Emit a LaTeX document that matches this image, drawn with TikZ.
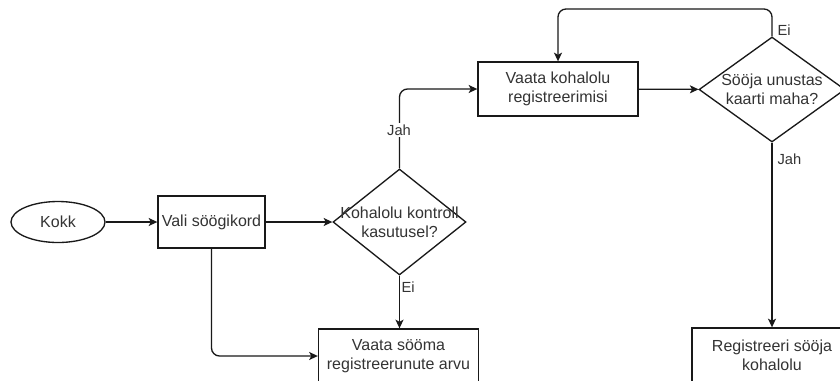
\documentclass[tikz,border=0pt]{standalone}
\usepackage{fontspec}
\setmainfont{Liberation Sans}
\usetikzlibrary{shapes.geometric,arrows.meta}
\begin{document}
\begin{tikzpicture}[x=0.75pt,y=-0.75pt,
  txt/.style={font=\fontsize{12}{14}\selectfont, text=black!80, align=center},
  lbl/.style={font=\fontsize{11}{13}\selectfont, text=black!80, inner sep=1pt},
  shp/.style={draw=black!90, line width=1pt, inner sep=0pt},
  box/.style={shp, txt, rectangle, minimum width=120pt, minimum height=40.5pt},
  oval/.style={shp, txt, ellipse},
  decision/.style={shp, diamond},
  arr/.style={draw=black!90, line width=1pt, rounded corners=6pt,
    -{Stealth[length=6.5pt,width=6pt,inset=1.6pt]}}
]
\path[use as bounding box, clip] (0,0) rectangle (840,380);

% shapes
\node[oval, minimum width=70.5pt, minimum height=30.75pt] (kokk) at (58,222) {Kokk};
\node[box, minimum width=80.25pt, minimum height=39pt] (vali) at (211.5,222) {Vali söögikord};
\node[decision, minimum width=99.75pt, minimum height=79.5pt] (d1) at (399.5,222) {};
\node[txt] (d1txt) at (399.5,222) {Kohalolu kontroll\\kasutusel?};
\node[box] (reg1) at (398.5,356) {Vaata sööma\\registreerunute arvu};
\node[box] (kon) at (558,89) {Vaata kohalolu\\registreerimisi};
\node[decision, minimum width=109.5pt, minimum height=78.75pt] (d2) at (772,89.5) {};
\node[txt] (d2txt) at (772,89.5) {Sööja unustas\\kaarti maha?};
\node[box] (reg2) at (772,355) {Registreeri sööja\\kohalolu};

\coordinate (looptop) at (0,9);

% connectors
\draw[arr] (kokk) -- (vali);
\draw[arr] (vali) -- (d1);
\draw[arr] (vali.south) |- (reg1.west);
\draw[arr] (d1.south) -- (d1.south |- reg1.north);
\draw[arr] (d1.north) |- (kon.west);
\draw[arr] (kon) -- (d2);
\draw[arr] (d2.north) -- (d2.north |- looptop) -| (kon.north);
\draw[arr] (d2.south) -- (reg2.north);

% connector labels
\node[lbl, fill=white] (jah1) at (399,130) {Jah};
\node[lbl, anchor=west] (ei1) at (400,287) {Ei};
\node[lbl, anchor=west] (ei2) at (776,30) {Ei};
\node[lbl, anchor=west] (jah2) at (776,159) {Jah};
\end{tikzpicture}
\end{document}
